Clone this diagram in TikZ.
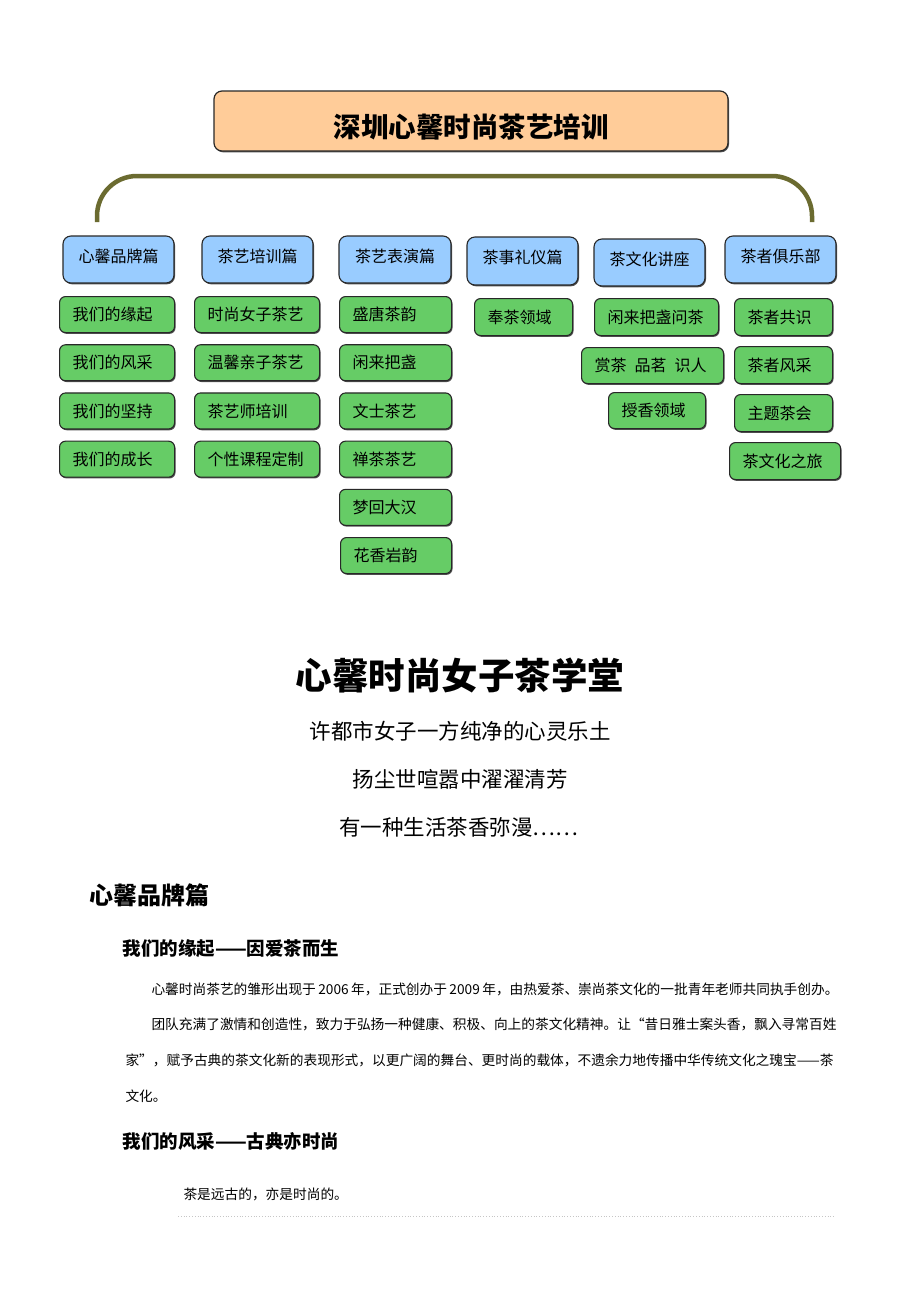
\documentclass[tikz,border=0pt]{standalone}
\usepackage{fontspec}
\setmainfont{Noto Sans CJK SC}
\usetikzlibrary{shadows}
\definecolor{titulo}{RGB}{255,204,153}
\definecolor{cabeza}{RGB}{153,204,255}
\definecolor{hoja}{RGB}{102,204,102}
\definecolor{borde}{RGB}{40,40,40}
\definecolor{arco}{RGB}{107,107,48}
\newcommand{\tam}[1]{\fontsize{#1}{#1}\selectfont}
\newcommand{\partexto}{\fontsize{13.7pt}{16pt}\selectfont\XeTeXlinebreaklocale "zh"\XeTeXlinebreakskip=0pt plus 1pt minus 0.5pt}

\begin{document}
\begin{tikzpicture}[x=1pt, y=-1pt,
    sombra/.style={drop shadow={shadow xshift=1pt, shadow yshift=-1.3pt, fill=black!75, opacity=0.9}},
    raiz/.style={draw=borde, fill=titulo, rounded corners=8pt, line width=1.2pt, minimum width=514pt, minimum height=60pt, text height=34pt, text depth=1pt, font=\bfseries\tam{27.5pt}, sombra},
    cabeza/.style={draw=borde, fill=cabeza, rounded corners=8pt, line width=1.1pt, minimum width=111pt, minimum height=47pt, text height=5pt, text depth=0pt, font=\tam{16pt}, sombra},
    hoja/.style={draw=borde, fill=hoja, rounded corners=6pt, line width=1.1pt, minimum height=36pt, inner xsep=13pt, align=left, anchor=north west, font=\tam{16pt}, sombra},
    lema/.style={font=\tam{21.5pt}},
    subtitulo/.style={anchor=west, font=\bfseries\tam{18.5pt}},
    texto/.style={anchor=west, font=\partexto}]
    % Fondo
    \fill[white] (0,0) rectangle (920,1302);
    \useasboundingbox (0,0) rectangle (920,1302);

    % Titulo
    \node[raiz] (raiz) at (471,121) {深圳心馨时尚茶艺培训};

    % Arco
    \coordinate (ai) at (97,222);
    \coordinate (ad) at (812,222);
    \coordinate (cima) at (454,176);
    \draw[arco, line width=4.5pt, rounded corners=40pt] (ai) |- (cima) -| (ad);

    % Cabeceras
    \node[cabeza] (marca) at (118.5,259.5) {心馨品牌篇};
    \node[cabeza] (curso) at (257.5,259.5) {茶艺培训篇};
    \node[cabeza, minimum width=112pt] (arte) at (395,259.5) {茶艺表演篇};
    \node[cabeza, minimum height=48pt] (rito) at (522.5,261) {茶事礼仪篇};
    \node[cabeza] (charla) at (649.5,262.5) {茶文化讲座};
    \node[cabeza] (club) at (780.5,259.5) {茶者俱乐部};

    % Hojas
    \foreach \t [count=\i] in {我们的缘起,我们的风采,我们的坚持,我们的成长}
        \node[hoja, text width=89pt] (marca\i) at (59,{296+48.2*(\i-1)}) {\t};
    \foreach \t [count=\i] in {时尚女子茶艺,温馨亲子茶艺,茶艺师培训,个性课程定制}
        \node[hoja, text width=99pt] (curso\i) at (194,{296+48.2*(\i-1)}) {\t};
    \foreach \t [count=\i] in {盛唐茶韵,闲来把盏,文士茶艺,禅茶茶艺,梦回大汉}
        \node[hoja, text width=86pt] (arte\i) at (339,{296+48.2*(\i-1)}) {\t};
    \node[hoja, text width=85pt] (arte6) at (340,537) {花香岩韵};

    \node[hoja, text width=72pt, minimum height=37pt] (rito1) at (474,298) {奉茶领域};

    \node[hoja, text width=98pt, minimum height=37pt] (charla1) at (594,298) {闲来把盏问茶};
    \node[hoja, text width=116pt] (charla2) at (581,347) {赏茶\hspace{0.5em}品茗\hspace{0.5em}识人};
    \node[hoja, text width=71pt] (charla3) at (608,392) {授香领域};

    \foreach \t/\y [count=\i] in {茶者共识/298,茶者风采/346,主题茶会/394}
        \node[hoja, text width=72pt, minimum height=37pt] (club\i) at (734,\y) {\t};
    \node[hoja, text width=85pt, minimum height=37pt] (club4) at (729,442) {茶文化之旅};

    % Lema
    \node[font=\bfseries\tam{36.5pt}] (lema0) at (460,676) {心馨时尚女子茶学堂};
    \node[lema] (lema1) at (460,731) {许都市女子一方纯净的心灵乐土};
    \node[lema] (lema2) at (460,779) {扬尘世喧嚣中濯濯清芳};
    \node[lema] (lema3) at (459,827) {有一种生活茶香弥漫……};

    % Seccion
    \node[anchor=west, font=\bfseries\tam{24pt}] (seccion) at (86,895) {心馨品牌篇};
    \node[subtitulo] (sub1) at (119,949) {我们的缘起——因爱茶而生};
    \node[texto] (l1) at (148,989) {\makebox[687pt][s]{心馨时尚茶艺的雏形出现于 2006 年，正式创办于 2009 年，由热爱茶、崇尚茶文化的一批青年老师共同执手创办。}};
    \node[texto] (l2) at (148,1024) {\makebox[687pt][s]{团队充满了激情和创造性，致力于弘扬一种健康、积极、向上的茶文化精神。让“昔日雅士案头香，飘入寻常百姓}};
    \node[texto] (l3) at (122,1060) {\makebox[713pt][s]{家”，赋予古典的茶文化新的表现形式，以更广阔的舞台、更时尚的载体，不遗余力地传播中华传统文化之瑰宝——茶}};
    \node[texto] (l4) at (122,1096) {文化。};
    \node[subtitulo] (sub2) at (119,1141) {我们的风采——古典亦时尚};
    \node[texto] (l5) at (180,1194) {茶是远古的，亦是时尚的。};

    % Linea punteada
    \coordinate (pi) at (178,1216);
    \coordinate (pd) at (835,1216);
    \draw[dotted, line width=0.8pt, gray!45] (pi) -- (pd);
\end{tikzpicture}
\end{document}
